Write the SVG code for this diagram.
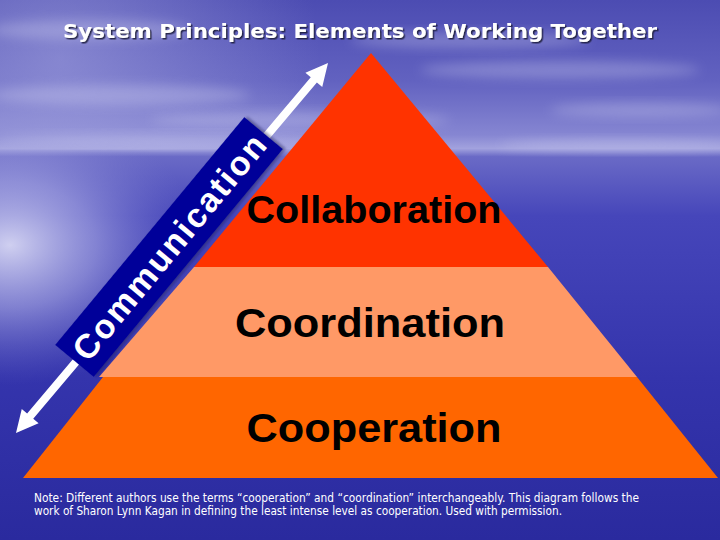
<svg xmlns="http://www.w3.org/2000/svg" width="720" height="540" viewBox="0 0 720 540">
  <defs>
    <linearGradient id="bgGrad" x1="0" y1="0" x2="0" y2="1">
      <stop offset="0" stop-color="#4c4cb2"/>
      <stop offset="0.15" stop-color="#6262c0"/>
      <stop offset="0.25" stop-color="#8686d2"/>
      <stop offset="0.275" stop-color="#a2a2de"/>
      <stop offset="0.29" stop-color="#6a6ac6"/>
      <stop offset="0.4" stop-color="#4646ba"/>
      <stop offset="0.7" stop-color="#3434ac"/>
      <stop offset="1" stop-color="#2a2a9e"/>
    </linearGradient>
    <radialGradient id="sunGlow" cx="10" cy="245" r="1" gradientUnits="userSpaceOnUse" gradientTransform="translate(10 245) scale(190 140) translate(-10 -245)">
      <stop offset="0" stop-color="#e8e8fa" stop-opacity="0.85"/>
      <stop offset="0.45" stop-color="#c4c4ee" stop-opacity="0.5"/>
      <stop offset="1" stop-color="#8080d0" stop-opacity="0"/>
    </radialGradient>
    <radialGradient id="skyGlow" cx="60" cy="60" r="260" gradientUnits="userSpaceOnUse">
      <stop offset="0" stop-color="#b0b0e4" stop-opacity="0.5"/>
      <stop offset="1" stop-color="#b0b0e4" stop-opacity="0"/>
    </radialGradient>
    <filter id="blur" x="-50%" y="-50%" width="200%" height="200%">
      <feGaussianBlur stdDeviation="6"/>
    </filter>
    <filter id="titleShadow" x="-5%" y="-30%" width="110%" height="160%">
      <feDropShadow dx="1.5" dy="1.5" stdDeviation="0.6" flood-color="#1a1a40" flood-opacity="0.9"/>
    </filter>
    <filter id="boxShadow" x="-10%" y="-10%" width="120%" height="120%">
      <feDropShadow dx="2" dy="2" stdDeviation="1.5" flood-color="#101050" flood-opacity="0.5"/>
    </filter>
  </defs>
  <style>
    .label { font-family: "Liberation Sans", Arial, sans-serif; font-weight: bold; fill: #000000; text-anchor: middle; }
    .note { font-family: "DejaVu Sans", "Liberation Sans", sans-serif; font-size: 11.5px; fill: #ffffff; }
    .cloud { fill: #d8d8f4; opacity: 0.3; filter: url(#blur); }
  </style>

  <g id="background">
    <rect x="0" y="0" width="720" height="540" fill="url(#bgGrad)"/>
    <rect x="0" y="0" width="720" height="150" fill="url(#skyGlow)"/>
    <ellipse class="cloud" cx="120" cy="95" rx="130" ry="10"/>
    <ellipse class="cloud" cx="300" cy="120" rx="150" ry="8"/>
    <ellipse class="cloud" cx="560" cy="70" rx="140" ry="9"/>
    <ellipse class="cloud" cx="640" cy="110" rx="90" ry="7"/>
    <ellipse class="cloud" cx="470" cy="40" rx="120" ry="8"/>
    <ellipse class="cloud" cx="90" cy="30" rx="100" ry="10"/>
    <ellipse class="cloud" cx="200" cy="140" rx="200" ry="6"/>
    <ellipse class="cloud" cx="620" cy="145" rx="120" ry="6"/>
    <rect x="0" y="150" width="300" height="330" fill="url(#sunGlow)"/>
  </g>

  <g id="title" filter="url(#titleShadow)">
    <text x="63" y="38" font-family="'DejaVu Sans', 'Liberation Sans', sans-serif" font-weight="bold" font-size="20" fill="#ffffff" textLength="594" lengthAdjust="spacingAndGlyphs">System Principles: Elements of Working Together</text>
  </g>

  <g id="cooperation">
    <polygon points="103,377 637,377 718,478 23,478" fill="#ff6600"/>
    <text class="label" x="374" y="442" font-size="40" textLength="255" lengthAdjust="spacingAndGlyphs">Cooperation</text>
  </g>
  <g id="coordination">
    <polygon points="194,267 548,267 637,377 99,377" fill="#ff9966"/>
    <text class="label" x="370" y="337" font-size="40" textLength="270" lengthAdjust="spacingAndGlyphs">Coordination</text>
  </g>
  <g id="collaboration">
    <polygon points="371,53 548,267 194,267" fill="#ff3300"/>
    <text class="label" x="374" y="223" font-size="39" textLength="255" lengthAdjust="spacingAndGlyphs">Collaboration</text>
  </g>

  <g id="connectors">
    <g transform="translate(16 433) rotate(-49.86)">
      <polygon points="0,0 22,-11 22,-4 462,-4 462,-11 484,0 462,11 462,4 22,4 22,11" fill="#ffffff"/>
    </g>
  </g>

  <g id="communication" transform="translate(169 247) rotate(-50.3)">
    <rect x="-148" y="-25" width="296" height="50" fill="#000099" filter="url(#boxShadow)"/>
    <text x="0" y="12" font-family="'Liberation Sans', Arial, sans-serif" font-weight="bold" font-size="34" fill="#ffffff" text-anchor="middle" textLength="282" lengthAdjust="spacing">Communication</text>
  </g>

  <g id="note">
    <text class="note" x="34" y="502" textLength="605" lengthAdjust="spacingAndGlyphs">Note:  Different authors use the terms “cooperation” and “coordination” interchangeably. This diagram follows the</text>
    <text class="note" x="34" y="515" textLength="528" lengthAdjust="spacingAndGlyphs">work of Sharon Lynn Kagan in defining the least intense level as cooperation. Used with permission.</text>
  </g>
</svg>
